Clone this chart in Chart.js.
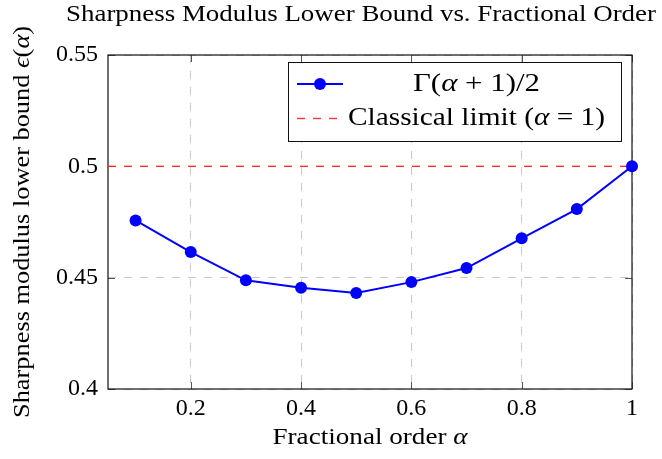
<!DOCTYPE html>
<html>
<head>
<meta charset="utf-8">
<script src="https://cdn.jsdelivr.net/npm/chart.js@4.4.0/dist/chart.umd.min.js"></script>
<style>
  html, body { margin: 0; padding: 0; background: #fff; }
  #wrap { width: 662px; height: 459px; }
</style>
</head>
<body>
<div id="wrap"><canvas id="chart" width="662" height="459"></canvas></div>
<script>
// data
const alphaValues = [0.1, 0.2, 0.3, 0.4, 0.5, 0.6, 0.7, 0.8, 0.9, 1.0];
const boundValues = [0.4757, 0.4615, 0.4488, 0.4455, 0.4431, 0.4480, 0.4543, 0.4677, 0.4808, 0.5000];
const limitX = [0.05, 1.0];
const limitY = [0.5, 0.5];
const xTicks = [0.2, 0.4, 0.6, 0.8, 1];
const yTicks = [0.4, 0.45, 0.5, 0.55];
const xRange = [0.05, 1];
const yRange = [0.4, 0.55];

const chartTitle = 'Sharpness Modulus Lower Bound vs. Fractional Order';
// [text, italic]
const xTitle = [['Fractional order ', false], ['α', true]];
const yTitle = [['Sharpness modulus lower bound ', false], ['ϵ', true], ['(', false], ['α', true], [')', false]];
const legendNames = [
	[['Γ(', false], ['α', true], [' + 1)/2', false]],
	[['Classical limit (', false], ['α', true], [' = 1)', false]]
];

const FONT = '"Liberation Serif", "Times New Roman", serif';
const SIZE = 24;

function setFont(ctx, italic, size) {
	ctx.font = (italic ? 'italic ' : '') + size + 'px ' + FONT;
}

// draws mixed roman/italic text centred on x, stretched to the given width
// (the original is set in a wider TeX font)
function drawRich(ctx, parts, x, y, size, width) {
	let w = 0;
	parts.forEach(function (p) { setFont(ctx, p[1], size); w += ctx.measureText(p[0]).width; });
	const sx = width ? width / w : 1;
	ctx.save();
	ctx.translate(x - w * sx / 2, y);
	ctx.scale(sx, 1);
	ctx.textAlign = 'left';
	ctx.textBaseline = 'middle';
	ctx.fillStyle = '#000';
	let cx = 0;
	parts.forEach(function (p) {
		setFont(ctx, p[1], size);
		ctx.fillText(p[0], cx, 0);
		cx += ctx.measureText(p[0]).width;
	});
	ctx.restore();
}

function line(ctx, x1, y1, x2, y2) {
	ctx.beginPath();
	ctx.moveTo(x1, y1);
	ctx.lineTo(x2, y2);
	ctx.stroke();
}

const frame = {
	id: 'frame',
	beforeDatasetsDraw(chart) {
		const { ctx, chartArea: a, scales } = chart;
		ctx.save();
		ctx.strokeStyle = '#555';
		ctx.lineWidth = 1;
		xTicks.forEach(function (v) {
			const px = Math.round(scales.x.getPixelForValue(v)) + 0.5;
			line(ctx, px, a.bottom, px, a.bottom - 7);
			line(ctx, px, a.top, px, a.top + 7);
		});
		yTicks.forEach(function (v) {
			const py = Math.round(scales.y.getPixelForValue(v)) + 0.5;
			line(ctx, a.left, py, a.left + 7, py);
			line(ctx, a.right, py, a.right - 7, py);
		});
		ctx.strokeStyle = '#111';
		ctx.lineWidth = 1.2;
		ctx.strokeRect(a.left, a.top, a.right - a.left, a.bottom - a.top);
		ctx.restore();
	}
};

const texts = {
	id: 'texts',
	afterDraw(chart) {
		const { ctx, chartArea: a } = chart;
		ctx.save();

		// title
		drawRich(ctx, [[chartTitle, false]], 361, 15, SIZE, 590);

		// axis titles
		drawRich(ctx, xTitle, (a.left + a.right) / 2, 438, SIZE, 195);
		ctx.save();
		ctx.translate(23, (a.top + a.bottom) / 2);
		ctx.rotate(-Math.PI / 2);
		drawRich(ctx, yTitle, 0, 0, SIZE, 392);
		ctx.restore();

		// legend box, top right inside the plot
		const bw = 333, bh = 79;
		const bx = a.right - 11 - bw, by = a.top + 7;
		ctx.fillStyle = '#fff';
		ctx.fillRect(bx, by, bw, bh);
		ctx.strokeStyle = '#111';
		ctx.lineWidth = 1;
		ctx.strokeRect(bx + 0.5, by + 0.5, bw, bh);

		const legendWidths = [127, 257];
		chart.data.datasets.forEach(function (ds, i) {
			const ry = by + 22 + i * 34.5;
			ctx.save();
			ctx.strokeStyle = ds.borderColor;
			ctx.lineWidth = ds.borderWidth;
			ctx.setLineDash(ds.borderDash || []);
			line(ctx, bx + 9, ry, bx + 55, ry);
			ctx.restore();
			if (ds.pointRadius > 0) {
				ctx.fillStyle = ds.pointBackgroundColor;
				ctx.beginPath();
				ctx.arc(bx + 32, ry, ds.pointRadius, 0, Math.PI * 2);
				ctx.fill();
			}
			drawRich(ctx, legendNames[i], bx + 188.5, ry, 26, legendWidths[i]);
		});
		ctx.restore();
	}
};

const ctx = document.getElementById('chart').getContext('2d');

const data = {
	datasets: [{
		label: 'Γ(α+1)/2',
		data: alphaValues.map(function (a, i) { return { x: a, y: boundValues[i] }; }),
		borderColor: '#0000ff',
		backgroundColor: '#0000ff',
		pointBackgroundColor: '#0000ff',
		pointBorderColor: '#0000ff',
		borderWidth: 2,
		pointRadius: 6,
		pointBorderWidth: 0,
		tension: 0,
		clip: false
	}, {
		label: 'Classical limit (α = 1)',
		data: limitX.map(function (a, i) { return { x: a, y: limitY[i] }; }),
		borderColor: 'rgba(255, 30, 30, 0.9)',
		borderWidth: 1.4,
		borderDash: [8, 8],
		pointRadius: 0,
		tension: 0
	}]
};

const tickFont = { family: FONT, size: SIZE };

const config = {
	type: 'line',
	data: data,
	options: {
		responsive: false,
		animation: false,
		devicePixelRatio: 1,
		layout: { padding: { left: 0, right: 30, top: 55, bottom: 0 } },
		plugins: {
			legend: { display: false },
			title: { display: false },
			tooltip: { enabled: false }
		},
		scales: {
			x: {
				type: 'linear',
				min: xRange[0],
				max: xRange[1],
				afterBuildTicks: function (s) { s.ticks = xTicks.map(function (v) { return { value: v }; }); },
				afterFit: function (s) { s.height = 70; },
				grid: { color: '#c8c8c8', lineWidth: 1, drawTicks: false },
				border: { display: false, dash: [8, 8] },
				ticks: {
					font: tickFont,
					color: '#000',
					padding: 5,
					maxRotation: 0,
					callback: function (v) { return String(v); }
				}
			},
			y: {
				min: yRange[0],
				max: yRange[1],
				afterBuildTicks: function (s) { s.ticks = yTicks.map(function (v) { return { value: v }; }); },
				afterFit: function (s) { s.width = 108; },
				grid: { color: '#c8c8c8', lineWidth: 1, drawTicks: false },
				border: { display: false, dash: [8, 8] },
				ticks: {
					font: tickFont,
					color: '#000',
					padding: 10,
					callback: function (v) { return String(v); }
				}
			}
		}
	},
	plugins: [frame, texts]
};

const myChart = new Chart(ctx, config);
</script>
</body>
</html>
